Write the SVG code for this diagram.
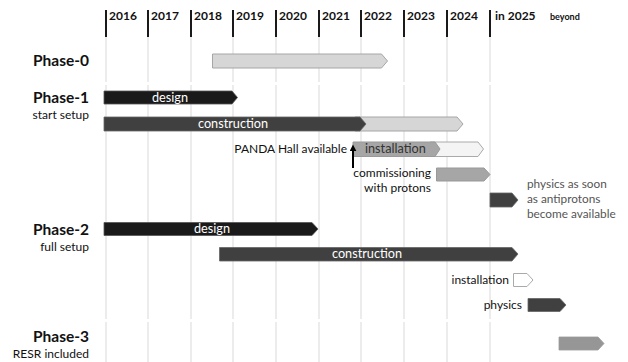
<svg xmlns="http://www.w3.org/2000/svg" width="628" height="362" viewBox="0 0 628 362">
<style>
text{font-family:Lato,"Liberation Sans",sans-serif}
.yr{font-size:12px;font-weight:bold;fill:#111}
.tick{stroke:#1a1a1a;stroke-width:2}
.grid{stroke:#d9d9d9;stroke-width:1}
.ph{font-size:15.5px;font-weight:bold;fill:#111;text-anchor:end}
.sub{font-size:12px;fill:#111;text-anchor:end}
.bl{font-size:12.7px;fill:#fff;text-anchor:middle}
.lbl{font-size:12px;fill:#111}
.note{font-size:11.8px;fill:#555}
.black{fill:#1a1a1a;stroke:#555;stroke-width:0.8}
.dark{fill:#404040;stroke:#666;stroke-width:0.8}
.light{fill:#d6d6d6;stroke:#a6a6a6;stroke-width:1}
.mid{fill:#a6a6a6;stroke:#999;stroke-width:1}
.white{fill:#f4f4f4;stroke:#aaa;stroke-width:1}
.white2{fill:#fff;stroke:#aaa;stroke-width:1}
.p3{fill:#969696;stroke:#999;stroke-width:0.8}
</style>
<defs>
<marker id="ah" viewBox="0 0 10 10" refX="2" refY="5" markerWidth="7" markerHeight="7" orient="auto" markerUnits="userSpaceOnUse"><path d="M0,0 L10,5 L0,10 Z" fill="#000"/></marker>
</defs>
<rect width="628" height="362" fill="#fff"/>
<g id="grid">
<g class="grid">
<path d="M106,37V82M106,85V319M106,322V362"/>
<path d="M148,37V82M148,85V319M148,322V362"/>
<path d="M191,37V82M191,85V319M191,322V362"/>
<path d="M233,37V82M233,85V319M233,322V362"/>
<path d="M276,37V82M276,85V319M276,322V362"/>
<path d="M319,37V82M319,85V319M319,322V362"/>
<path d="M361,37V82M361,85V319M361,322V362"/>
<path d="M404,37V82M404,85V319M404,322V362"/>
<path d="M447,37V82M447,85V319M447,322V362"/>
<path d="M490,37V82M490,85V319M490,322V362"/>
</g>
<g class="tick">
<path d="M106,10V37M148,10V37M191,10V37M233,10V37M276,10V37M319,10V37M361,10V37M404,10V37M447,10V37M490,10V37"/>
</g>
<text class="yr" x="109" y="20">2016</text>
<text class="yr" x="151" y="20">2017</text>
<text class="yr" x="194" y="20">2018</text>
<text class="yr" x="236" y="20">2019</text>
<text class="yr" x="279" y="20">2020</text>
<text class="yr" x="322" y="20">2021</text>
<text class="yr" x="364" y="20">2022</text>
<text class="yr" x="407" y="20">2023</text>
<text class="yr" x="450" y="20">2024</text>
<text class="yr" x="495" y="20">in 2025</text>
<text x="550" y="20" style="font-size:9px;font-weight:bold;fill:#111">beyond</text>
</g>
<g id="phase0">
<text class="ph" x="89" y="66">Phase-0</text>
<path class="light" d="M212.5,54H381.5L387.5,61L381.5,68H212.5Z"/>
</g>
<g id="phase1">
<text class="ph" x="89" y="103">Phase-1</text>
<text class="sub" x="89" y="119">start setup</text>
<path class="black" d="M104,91H232L237.5,97.5L232,104H104Z"/>
<text class="bl" x="170" y="102">design</text>
<path class="light" d="M355,117H457L463,124L457,131H355Z"/>
<path class="dark" d="M104,117H360L366,124L360,131H104Z"/>
<text class="bl" x="233" y="128">construction</text>
<path class="white" d="M430,142H478L483.5,149L478,156.5H430Z"/>
<path class="mid" d="M353,142H435L440,149L435,156.5H353Z"/>
<text x="365" y="153" style="font-size:12.7px;fill:#333">installation</text>
<text class="lbl" x="347" y="153" text-anchor="end">PANDA Hall available</text>
<path class="mid" d="M436.5,168H484L490,174.5L484,181H436.5Z"/>
<text class="lbl" x="431" y="177" text-anchor="end">commissioning</text>
<text class="lbl" x="431" y="192" text-anchor="end">with protons</text>
<path class="dark" d="M490,193H512L518,200L512,207H490Z"/>
<text class="note" x="527" y="188">physics as soon</text>
<text class="note" x="527" y="203">as antiprotons</text>
<text class="note" x="527" y="218">become available</text>
</g>
<g id="phase2">
<text class="ph" x="89" y="235">Phase-2</text>
<text class="sub" x="89" y="251">full setup</text>
<path class="black" d="M104,222.5H312L318,229L312,235.5H104Z"/>
<text class="bl" x="212" y="233">design</text>
<path class="dark" d="M219.5,247.5H512L518,254L512,261H219.5Z"/>
<text class="bl" x="367" y="258">construction</text>
<path class="white2" d="M513.5,273.5H527L533,280L527,286.5H513.5Z"/>
<text class="lbl" x="509" y="284" text-anchor="end">installation</text>
<path class="dark" d="M528,298.5H560L566,305L560,311.5H528Z"/>
<text class="lbl" x="522" y="309" text-anchor="end">physics</text>
</g>
<g id="phase3">
<text class="ph" x="89" y="342">Phase-3</text>
<text class="sub" x="89" y="358">RESR included</text>
<path class="p3" d="M559,337H598L604,343.5L598,350H559Z"/>
</g>
<g id="connectors">
<line x1="353" y1="168" x2="353" y2="150" stroke="#000" stroke-width="2" marker-end="url(#ah)"/>
</g>
</svg>
